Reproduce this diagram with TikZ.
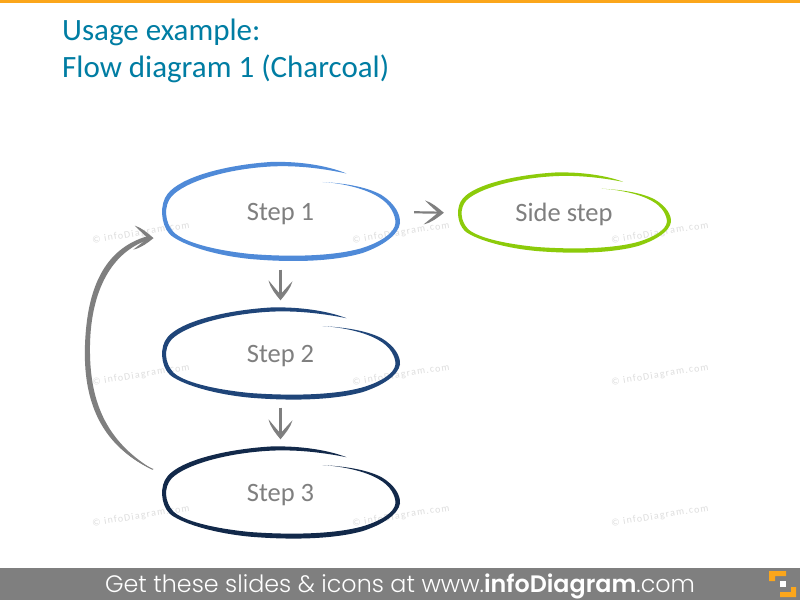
\documentclass[tikz,border=0pt]{standalone}
\usepackage{fontspec}
\setmainfont{Carlito}
\newfontfamily\footfont{Poppins Light}[BoldFont=Poppins SemiBold]
\newfontfamily\markfont[LetterSpace=12]{Carlito}
\usetikzlibrary{arrows.meta,shapes.geometric}
\definecolor{bar}{HTML}{FBA61B}
\definecolor{foot}{HTML}{7F7F7F}
\definecolor{titleblue}{HTML}{007DA3}
\definecolor{txt}{HTML}{7F7F7F}
\definecolor{cA}{HTML}{4F8AD8}
\definecolor{cB}{HTML}{1F4579}
\definecolor{cC}{HTML}{12294A}
\definecolor{cD}{HTML}{8CCB0A}
\definecolor{wm}{HTML}{DEDEDE}
\pgfdeclarearrow{
  name=BrushHead,
  setup code={\pgfarrowssettipend{0pt}\pgfarrowssetlineend{-4bp}\pgfarrowssetvisualbackend{-18bp}\pgfarrowssetbackend{-18bp}\pgfarrowssavethe{\pgfarrowlength}},
  drawing code={
    \pgfpathmoveto{\pgfpoint{1bp}{0bp}}
    \pgfpathcurveto{\pgfpoint{-5bp}{5bp}}{\pgfpoint{-11bp}{10bp}}{\pgfpoint{-18bp}{12bp}}
    \pgfpathcurveto{\pgfpoint{-13bp}{7bp}}{\pgfpoint{-8bp}{3bp}}{\pgfpoint{-5bp}{0bp}}
    \pgfpathcurveto{\pgfpoint{-8bp}{-3bp}}{\pgfpoint{-13bp}{-7bp}}{\pgfpoint{-19bp}{-12bp}}
    \pgfpathcurveto{\pgfpoint{-11bp}{-10bp}}{\pgfpoint{-5bp}{-5bp}}{\pgfpoint{1bp}{0bp}}
    \pgfpathclose
    \pgfusepathqfill
  },
  defaults={}
}
\tikzset{
  x=1bp,y=-1bp,
  stepnode/.style={ellipse,minimum width=237bp,minimum height=#1,inner sep=0pt,text=txt,text height=17bp,text depth=0pt,font=\fontsize{26.5bp}{30bp}\selectfont},
  stepnode/.default=91bp,
  flowline/.style={draw=foot,line width=2.2bp,-{BrushHead}},
  wmark/.style={text=wm,rotate=9,font=\markfont\fontsize{10bp}{11bp}\selectfont,inner sep=0pt},
  titletext/.style={anchor=base west,inner sep=0pt,text=titleblue,font=\fontsize{31bp}{36bp}\selectfont},
}
% scribble ellipse: #1,#2 centre, #3 xscale, #4 yscale, #5 colour
\newcommand{\scribble}[5]{%
\begin{scope}[shift={(#1,#2)},xscale=#3,yscale=#4]
\fill[#5]
 (42,-30) .. controls (60,-29) and (85,-26) .. (101,-17)
 .. controls (115,-8) and (120,3) .. (119.5,11)
 .. controls (118,23) and (102,34) .. (82,41)
 .. controls (55,49) and (15,51) .. (-30,47)
 .. controls (-70,43) and (-102,31) .. (-111,22)
 .. controls (-120,12) and (-121,-8) .. (-113,-18)
 .. controls (-100,-35) and (-55,-47) .. (-10,-50)
 .. controls (20,-51) and (48,-46) .. (66,-38.5)
 .. controls (45,-43) and (18,-47) .. (-10,-45.5)
 .. controls (-55,-43) and (-96,-30) .. (-109,-15.5)
 .. controls (-117,-6) and (-116,10) .. (-107,20)
 .. controls (-97,30) and (-68,38) .. (-30,42)
 .. controls (15,45.5) and (55,43.5) .. (80,36.5)
 .. controls (100,30.5) and (114,21) .. (115,11)
 .. controls (115,3) and (110,-8) .. (98,-15)
 .. controls (84,-24) and (60,-29) .. (42,-30) -- cycle;
\end{scope}}
\begin{document}
\begin{tikzpicture}
\useasboundingbox (0,0) rectangle (800,600);
\fill[white] (0,0) rectangle (800,600);
\fill[bar] (0,0) rectangle (800,3);
\node[titletext] (t1) at (62,41) {Usage example:};
\node[titletext] (t2) at (62,78) {Flow diagram 1 (Charcoal)};
\foreach \x/\n in {141/a,401/b,660/c}{
 \node[wmark] (w1\n) at (\x,233) {© infoDiagram.com};
 \node[wmark] (w2\n) at (\x,375) {© infoDiagram.com};
 \node[wmark] (w3\n) at (\x,516) {© infoDiagram.com};
}
\scribble{280.5}{212}{1}{1}{cA}
\scribble{280.5}{354}{1}{0.93}{cB}
\scribble{280.5}{493}{1}{0.93}{cC}
\scribble{564}{213}{0.895}{0.81}{cD}
\node[stepnode=99bp] (s1) at (280.5,212) {Step 1};
\node[stepnode] (s2) at (280.5,354) {Step 2};
\node[stepnode] (s3) at (280.5,493) {Step 3};
\node[stepnode=80bp,minimum width=212bp] (s4) at (564,213) {Side step};
\draw[flowline,shorten <=8bp,shorten >=9bp] (s1.south) -- (s2.north);
\draw[flowline,shorten <=8bp,shorten >=9bp] (s2.south) -- (s3.north);
\draw[flowline,shorten <=15bp,shorten >=15bp] (s1.east) -- (s4.west);
\draw[flowline,line width=1bp,shorten <=20bp,shorten >=28bp] (s3.170) -- (152,469) .. controls (102,445) and (86,400) .. (87.5,345) .. controls (89,290) and (107.5,250.5) .. (148,238) -- (s1.195);
\fill[foot] (152,469) .. controls (100,445) and (83,400) .. (85,345) .. controls (87,290) and (103,249) .. (148,236) -- (148,240) .. controls (112,252) and (91,290) .. (90,345) .. controls (89,400) and (105,440) .. (152,469) -- cycle;
\fill[foot] (0,568) rectangle (800,600);
\node[anchor=base,inner sep=0pt,text=white,font=\footfont\fontsize{23.8bp}{26bp}\selectfont] (ft) at (400,592) {Get these slides \& icons at www.\textbf{infoDiagram}.com};
\fill[bar] (769,571) -- (786,571) -- (786,576) -- (775,576) -- (775,581) -- (769,581) -- cycle;
\fill[bar] (796,597) -- (780,597) -- (780,592) -- (791,592) -- (791,587) -- (796,587) -- cycle;
\fill[white] (780,581) rectangle (786,587);
\end{tikzpicture}
\end{document}
